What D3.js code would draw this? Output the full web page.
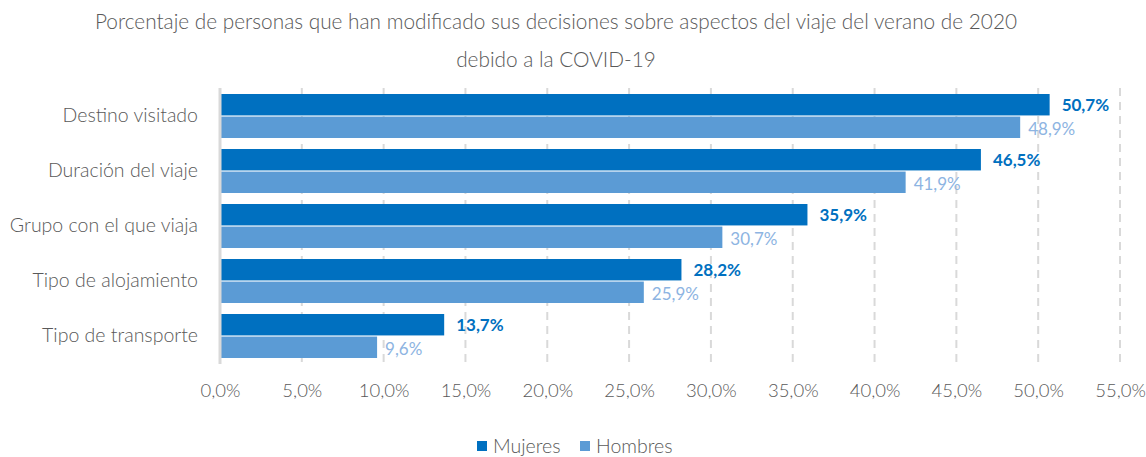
<!DOCTYPE html>
<html><head><meta charset="utf-8">
<script src="https://cdn.jsdelivr.net/npm/d3@7"></script>
<style>body{margin:0;background:#fff}svg{display:block;font-family:Lato,"Noto Sans",sans-serif}</style>
</head><body><svg id="c" width="1146" height="457"></svg>
<script>
const categories = ["Destino visitado","Duración del viaje","Grupo con el que viaja","Tipo de alojamiento","Tipo de transporte"];
const mujeres = [50.7, 46.5, 35.9, 28.2, 13.7];
const hombres = [48.9, 41.9, 30.7, 25.9, 9.6];
const seriesNames = ["Mujeres","Hombres"];
const ticks = [0,5,10,15,20,25,30,35,40,45,50,55];
const titleLines = ["Porcentaje de personas que han modificado sus decisiones sobre aspectos del viaje del verano de 2020","debido a la COVID-19"];

const colors = ["#0070C0","#5B9BD5"];
const labelColors = ["#0070C0","#8DB4E2"];
const fmt = v => v.toFixed(1).replace(".", ",") + "%";

const svg = d3.select("#c");
const x = d3.scaleLinear().domain([0,55]).range([220,1120]);
const y = d3.scaleBand().domain(categories).range([88.5,363.5]).paddingInner(0.2).paddingOuter(0.1);
const sub = d3.scaleBand().domain(seriesNames).range([0,y.bandwidth()]).paddingInner(0.05);

svg.append("g").selectAll("text").data(titleLines).join("text")
  .attr("x",556).attr("y",(d,i)=>29+i*38).attr("text-anchor","middle")
  .attr("font-size",20.8).attr("font-weight",300).attr("fill","#595959").text(d=>d);

// grid
svg.append("g").selectAll("line").data(ticks.slice(1)).join("line")
  .attr("x1",d=>x(d)).attr("x2",d=>x(d)).attr("y1",88).attr("y2",364)
  .attr("stroke","#d9d9d9").attr("stroke-width",2).attr("stroke-dasharray","8,6");

const xa = d3.axisBottom(x).tickValues(ticks).tickFormat(d=>d.toFixed(1).replace(".",",")+"%").tickSize(0).tickPadding(0);
const gx = svg.append("g").attr("transform","translate(0,384)").call(xa);
gx.select(".domain").remove();
gx.selectAll("text").attr("font-size",18.5).attr("font-weight",300).attr("fill","#595959").attr("font-family","Lato,sans-serif");

const data = [mujeres, hombres];
const grp = svg.append("g");
data.forEach((arr, si) => {
  grp.selectAll(null).data(arr).join("rect")
    .attr("x", x(0)).attr("y",(d,i)=>y(categories[i])+sub(seriesNames[si]))
    .attr("width", d=>x(d)-x(0)).attr("height", sub.bandwidth())
    .attr("fill", colors[si]);
  grp.selectAll(null).data(arr).join("text")
    .attr("x", d=>x(d)+(si===0?12:8))
    .attr("y",(d,i)=>y(categories[i])+sub(seriesNames[si])+sub.bandwidth()/2 + (si===0?6:8))
    .attr("font-size",17).attr("font-weight", si===0?700:400).attr("fill",labelColors[si]).text(fmt);
});

svg.append("line").attr("x1",220).attr("x2",220).attr("y1",88).attr("y2",364).attr("stroke","#d9d9d9").attr("stroke-width",3);

svg.append("g").selectAll("text").data(categories).join("text")
  .attr("x",198).attr("y",d=>y(d)+y.bandwidth()/2+6).attr("text-anchor","end")
  .attr("font-size",19.5).attr("font-weight",300).attr("fill","#595959").text(d=>d);

const lg = svg.append("g");
const lx = [477, 580];
seriesNames.forEach((s,i)=>{
  lg.append("rect").attr("x",lx[i]).attr("y",441).attr("width",10).attr("height",10).attr("fill",colors[i]);
  lg.append("text").attr("x",lx[i]+16).attr("y",453).attr("font-size",19.5).attr("font-weight",300).attr("fill","#595959").text(s);
});
</script></body></html>
